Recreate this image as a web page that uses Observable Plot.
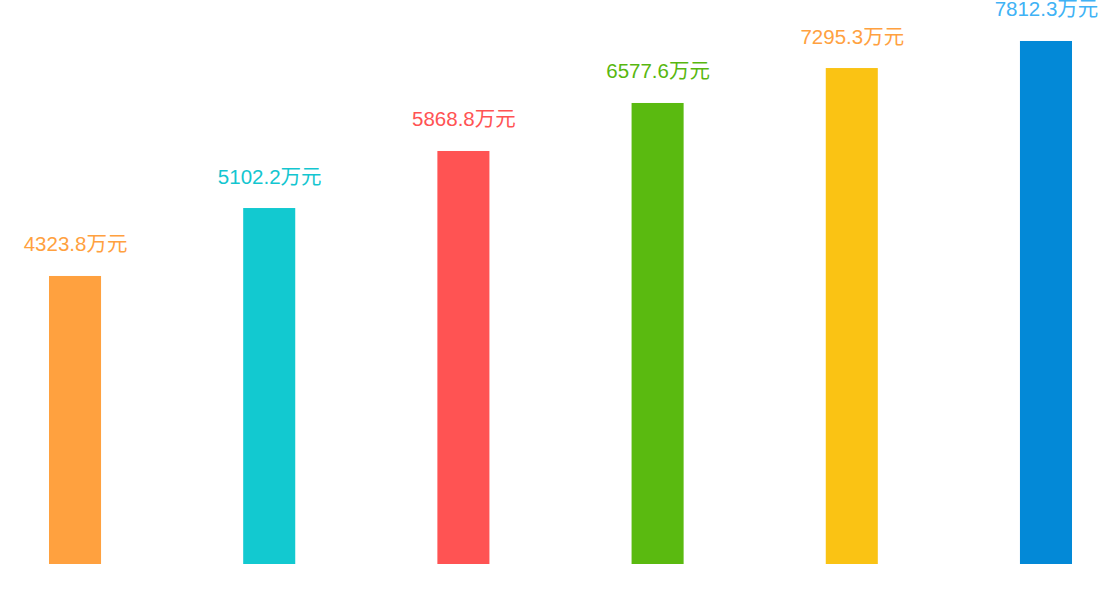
<!DOCTYPE html>
<html>
<head>
<meta charset="utf-8">
<script src="https://cdn.jsdelivr.net/npm/d3@7"></script>
<script src="https://cdn.jsdelivr.net/npm/@observablehq/plot@0.6"></script>
<style>
  html, body { margin: 0; padding: 0; background: #ffffff; }
  #chart { width: 1120px; height: 610px; }
</style>
</head>
<body>
<div id="chart"></div>
<script>
// Categories (no visible axis labels in the reference)
const categories = ["A", "B", "C", "D", "E", "F"];
// Label texts shown above bars (万元)
const labelValues = [4323.8, 5102.2, 5868.8, 6577.6, 7295.3, 7812.3];
// Bar heights (same unit, 万元)
const barValues = [4302, 5317, 6169, 6886, 7408, 7812];
const barColors = ["#FFA13F", "#12C9D0", "#FF5353", "#5ABA10", "#FAC314", "#0389D7"];
const labelColors = ["#FFA13F", "#13C6D0", "#FF5353", "#58B70F", "#FFA13F", "#40B2F5"];

const data = categories.map((c, i) => ({
  cat: c,
  bar: barValues[i],
  label: labelValues[i].toFixed(1) + "万元",
  barColor: barColors[i],
  labelColor: labelColors[i]
}));

const chart = Plot.plot({
  width: 1120,
  height: 610,
  margin: 0,
  style: { background: "#ffffff", fontFamily: "'Liberation Sans', Arial, 'Noto Sans CJK SC', sans-serif" },
  x: { domain: categories, range: [0.45, 1120.55], round: false, paddingInner: 0.732, paddingOuter: 0.25, axis: null },
  y: { domain: [0, 8000], range: [564, 28.4], axis: null },
  marks: [
    Plot.barY(data, { x: "cat", y: "bar", fill: "barColor" }),
    Plot.text(data, {
      x: "cat", y: "bar", text: "label", fill: "labelColor",
      lineAnchor: "bottom", dy: -25, fontSize: 20.5,
      fontFamily: "'Liberation Sans', Arial, 'Noto Sans CJK SC', sans-serif"
    })
  ]
});
document.getElementById("chart").appendChild(chart);
</script>
</body>
</html>
